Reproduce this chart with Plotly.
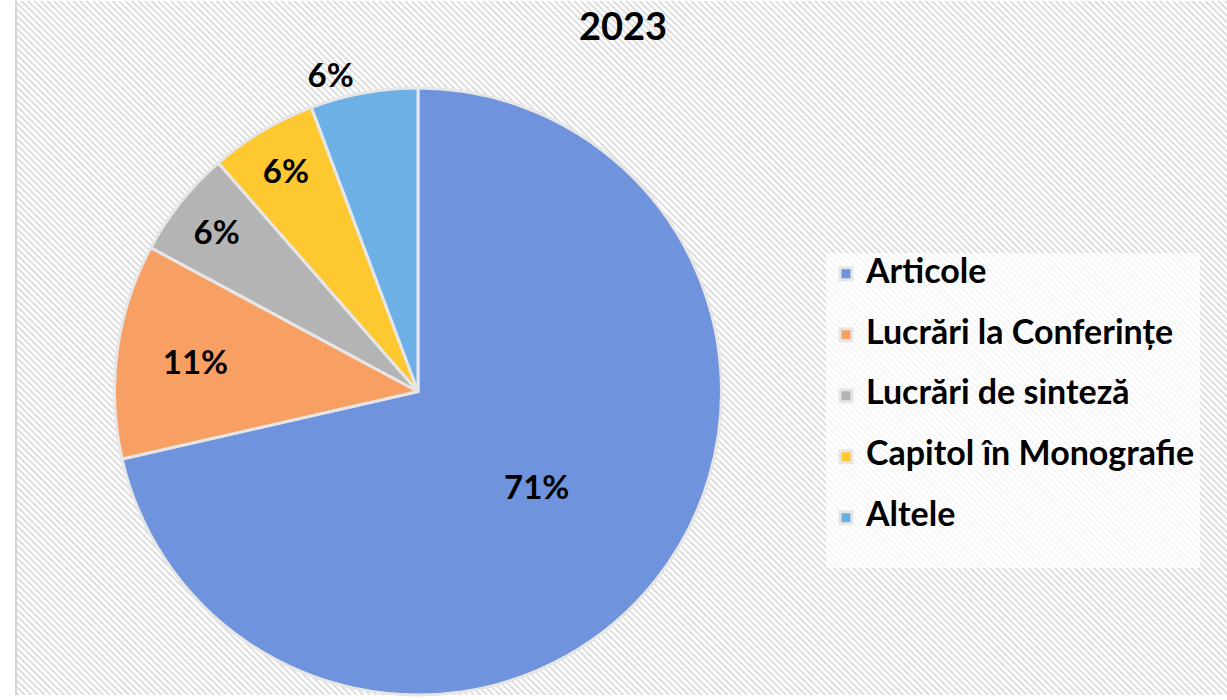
import base64
import plotly.graph_objects as go

# ---- data ----
categories = ["Articole", "Lucrări la Conferințe", "Lucrări de sinteză",
              "Capitol în Monografie", "Altele"]
counts = [25, 4, 2, 2, 2]
colors = ["#6f93dc", "#f8a064", "#b4b4b4", "#fdc830", "#6cb0e6"]
text_positions = ["inside", "inside", "inside", "inside", "outside"]
title_text = "2023"

W, H = 1227, 700
TOP = 88
plot_h = H - TOP

FONT = "Lato"

# hatch background image (decorative)
P = 4.6
svg = (
    "<svg xmlns='http://www.w3.org/2000/svg' width='1211' height='700'>"
    f"<defs><pattern id='p' width='{P}' height='{P}' patternUnits='userSpaceOnUse' "
    "patternTransform='rotate(45)'>"
    f"<rect width='{P}' height='{P}' fill='#ffffff'/>"
    f"<rect width='{P}' height='2' fill='#dddddd'/>"
    "</pattern></defs>"
    "<rect width='100%' height='100%' fill='url(#p)'/></svg>"
)
src = "data:image/svg+xml;base64," + base64.b64encode(svg.encode()).decode()

legend_labels = [
    f"<span style='font-size:34px'>{c}</span><br> " for c in categories
]

fig = go.Figure(
    go.Pie(
        labels=legend_labels,
        values=counts,
        sort=False,
        direction="clockwise",
        rotation=0,
        marker=dict(colors=colors, line=dict(color="#e6e6e6", width=3)),
        texttemplate="%{percent:.0%}",
        textposition=text_positions,
        insidetextorientation="horizontal",
        textfont=dict(family=FONT, size=33, color="black", weight="bold"),
        domain=dict(x=[112 / W, 724 / W], y=[0, 1]),
        hoverinfo="label+percent",
    )
)

fig.update_layout(
    width=W,
    height=H,
    margin=dict(l=0, r=0, t=TOP, b=0),
    paper_bgcolor="white",
    title=dict(
        text=title_text,
        font=dict(family=FONT, size=38, color="black", weight="bold"),
        x=623 / W,
        xref="paper",
        xanchor="center",
        y=1 - 27 / H,
        yref="container",
        yanchor="middle",
    ),
    legend=dict(
        x=826 / W,
        xanchor="left",
        y=(H - 413) / plot_h,
        yanchor="middle",
        bgcolor="rgba(255,255,255,0.7)",
        font=dict(family=FONT, size=22.3, color="black", weight="bold"),
        valign="top",
    ),
    images=[
        dict(
            source=src,
            xref="paper",
            yref="paper",
            x=16 / W,
            y=1 + TOP / plot_h,
            sizex=(W - 16) / W,
            sizey=H / plot_h,
            xanchor="left",
            yanchor="top",
            sizing="stretch",
            layer="below",
        )
    ],
    shapes=[
        dict(
            type="line",
            xref="paper",
            yref="paper",
            x0=16 / W,
            x1=16 / W,
            y0=0,
            y1=1 + TOP / plot_h,
            line=dict(color="#d4d4d4", width=2),
        )
    ],
)

fig.write_html(
    "out.html",
    config={"displayModeBar": False},
    post_script="document.body.style.margin='0';document.body.style.overflow='hidden';",
)
